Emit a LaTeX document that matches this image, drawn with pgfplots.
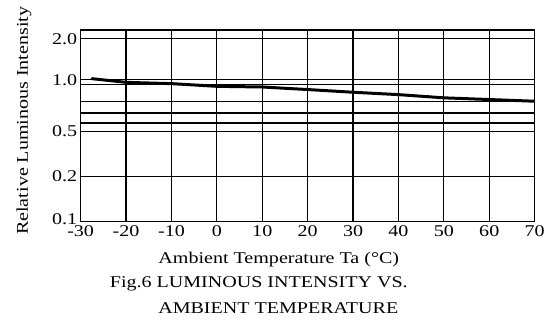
\documentclass[border=0pt]{standalone}
\usepackage{fontspec}
\setmainfont{Liberation Serif}[FakeStretch=1.22]
\usepackage{pgfplots}
\pgfplotsset{compat=1.18}
\newcommand{\lbl}{\fontsize{16.5}{18}\selectfont}
\begin{document}
\begin{tikzpicture}
\begin{axis}[name=ax, scale only axis, width=456pt, height=192.5pt,
  xmin=-30, xmax=70, ymin=0.1, ymax=2.2195,
  y coord trafo/.code={\pgfmathparse{#1<0.2 ? 455*(#1-0.1) : (#1<0.5 ? 45.5+150*(#1-0.2) : (#1<0.6 ? 90.5+85*(#1-0.5) : (#1<0.7 ? 99+100*(#1-0.6) : (#1<0.8 ? 109+115*(#1-0.7) : (#1<0.9 ? 120.5+170*(#1-0.8) : (#1<1.0 ? 137.5+50*(#1-0.9) : 142.5+41*(#1-1)))))))}},
  xtick={-30,-20,-10,0,10,20,30,40,50,60,70},
  xticklabels={\raisebox{-4pt}{-30},-20,-10,\raisebox{-3pt}{0},10,20,30,40,50,60,70},
  ytick={0.1,0.2,0.5,0.6,0.7,0.8,0.9,1.0,2.0},
  yticklabels={\raisebox{6pt}{0.1},0.2,0.5,{},{},{},{},1.0,2.0},
  grid=major, major grid style={black, line width=1.2pt},
  axis line style={black, line width=1.5pt},
  tick style={draw=none},
  ticklabel style={font=\lbl},
  xticklabel style={yshift=-1pt},
  /pgf/number format/assume math mode=true,
]
\addplot[black, line width=3pt, line cap=round] coordinates {
(-27.5,1.024) (-20,0.946) (-10,0.92) (0,0.89) (10,0.886) (20,0.871) (30,0.855) (40,0.841) (50,0.822) (60,0.812) (70,0.802)
};
\end{axis}
\node[rotate=90, font=\lbl, inner sep=0pt] at ([xshift=-57pt,yshift=5pt]ax.west) {Relative Luminous Intensity};
\node[font=\lbl, inner sep=0pt] at ([xshift=-29pt,yshift=-38.5pt]ax.south) {Ambient Temperature Ta (°C)};
\node[font=\lbl, inner sep=0pt] at ([xshift=-49pt,yshift=-62.5pt]ax.south) {Fig.6 LUMINOUS INTENSITY VS.};
\node[font=\lbl, inner sep=0pt] at ([xshift=-29.5pt,yshift=-87.5pt]ax.south) {AMBIENT TEMPERATURE};
\path ([xshift=-81pt,yshift=-102.5pt]ax.south west) rectangle ([xshift=11pt,yshift=30pt]ax.north east);
\end{tikzpicture}
\end{document}
